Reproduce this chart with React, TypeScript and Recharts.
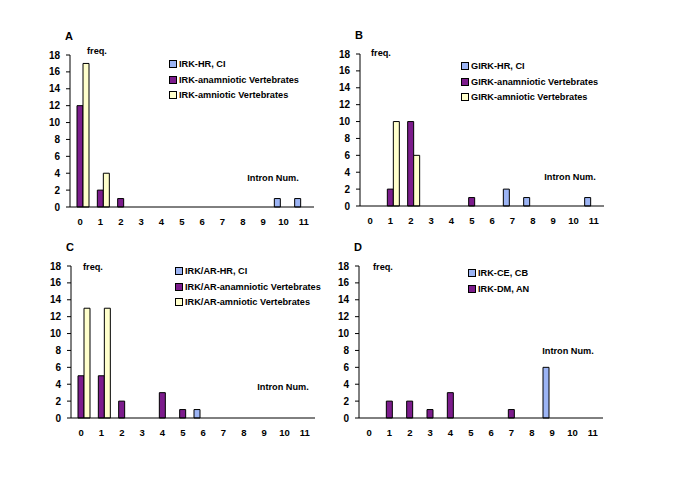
import { Bar, BarChart, XAxis, YAxis } from "recharts";

const FONT = '"Liberation Sans", Arial, sans-serif';

const BLUE = "#9cb4f4";
const PURPLE = "#7c1c8c";
const YELLOW = "#ffffcc";

// intron number categories (x axis)
const introns = ["0", "1", "2", "3", "4", "5", "6", "7", "8", "9", "10", "11"];
const freqTicks = [0, 2, 4, 6, 8, 10, 12, 14, 16, 18];

// A
const irkHR = [0, 0, 0, 0, 0, 0, 0, 0, 0, 0, 1, 1];
const irkAnam = [12, 2, 1, 0, 0, 0, 0, 0, 0, 0, 0, 0];
const irkAmni = [17, 4, 0, 0, 0, 0, 0, 0, 0, 0, 0, 0];

// B
const girkHR = [0, 0, 0, 0, 0, 0, 0, 2, 1, 0, 0, 1];
const girkAnam = [0, 2, 10, 0, 0, 1, 0, 0, 0, 0, 0, 0];
const girkAmni = [0, 10, 6, 0, 0, 0, 0, 0, 0, 0, 0, 0];

// C
const irkArHR = [0, 0, 0, 0, 0, 0, 1, 0, 0, 0, 0, 0];
const irkArAnam = [5, 5, 2, 0, 3, 1, 0, 0, 0, 0, 0, 0];
const irkArAmni = [13, 13, 0, 0, 0, 0, 0, 0, 0, 0, 0, 0];

// D
const irkCE = [0, 0, 0, 0, 0, 0, 0, 0, 0, 6, 0, 0];
const irkDM = [0, 2, 2, 1, 3, 0, 0, 1, 0, 0, 0, 0];
const noSeries = [0, 0, 0, 0, 0, 0, 0, 0, 0, 0, 0, 0];

const edgeTicks = Array.from({ length: introns.length + 1 }, (_, i) => i);

type LegendItem = { label: string; color: string };

type PanelProps = {
  letter: string;
  left: number;
  top: number;
  hr: number[];
  anam: number[];
  amni: number[];
  legend: LegendItem[];
  legendX: number;
  legendY: number;
  freqX: number;
  freqY: number;
  intronX: number;
  intronY: number;
};

const textStyle = {
  position: "absolute" as const,
  fontFamily: FONT,
  fontWeight: "bold" as const,
  fontSize: 9.2,
  color: "#000",
  whiteSpace: "nowrap" as const,
  lineHeight: "12px",
};

const black = { stroke: "#000", strokeWidth: 1 };

const Panel = ({
  letter,
  left,
  top,
  hr,
  anam,
  amni,
  legend,
  legendX,
  legendY,
  freqX,
  freqY,
  intronX,
  intronY,
}: PanelProps) => {
  const data = introns.map((n, i) => ({
    n,
    hr: hr[i],
    anam: anam[i],
    amni: amni[i],
  }));

  return (
    <div style={{ position: "absolute", left, top, width: 334, height: 237 }}>
      <BarChart
        width={334}
        height={237}
        data={data}
        margin={{ top: 55, right: 20, bottom: 10, left: 40 }}
        barGap={0}
        barCategoryGap={1}
      >
        <XAxis
          xAxisId="edge"
          type="number"
          domain={[0, introns.length]}
          ticks={edgeTicks}
          interval={0}
          allowDataOverflow
          height={4}
          mirror
          tick={false}
          tickSize={4}
          axisLine={black}
          tickLine={black}
        />
        <XAxis
          xAxisId="cat"
          dataKey="n"
          height={20}
          interval={0}
          axisLine={false}
          tickLine={false}
          tickSize={0}
          tickMargin={11}
          tick={{ fill: "#000", fontSize: 9.5, fontWeight: "bold", fontFamily: FONT }}
        />
        <YAxis
          domain={[0, 18]}
          ticks={freqTicks}
          width={30}
          interval={0}
          tickSize={4}
          tickMargin={6}
          axisLine={black}
          tickLine={black}
          tick={{ fill: "#000", fontSize: 10, fontWeight: "bold", fontFamily: FONT }}
        />
        <Bar xAxisId="cat" dataKey="hr" fill={BLUE} stroke="#000" strokeWidth={1} isAnimationActive={false} />
        <Bar xAxisId="cat" dataKey="anam" fill={PURPLE} stroke="#000" strokeWidth={1} isAnimationActive={false} />
        <Bar xAxisId="cat" dataKey="amni" fill={YELLOW} stroke="#000" strokeWidth={1} isAnimationActive={false} />
      </BarChart>

      <div style={{ ...textStyle, fontSize: 11, left: 65, top: 30 }}>{letter}</div>
      <div style={{ ...textStyle, left: freqX, top: freqY - 6 }}>freq.</div>
      <div
        style={{
          ...textStyle,
          left: intronX,
          top: intronY - 6,
          transform: "translateX(-50%)",
        }}
      >
        Intron Num.
      </div>

      {legend.map((item, i) => (
        <div
          key={item.label}
          style={{
            ...textStyle,
            left: legendX,
            top: legendY + i * 15.7 - 6,
            display: "flex",
            alignItems: "center",
          }}
        >
          <span
            style={{
              display: "inline-block",
              width: 6,
              height: 6,
              background: item.color,
              border: "1px solid #000",
              marginRight: 2,
            }}
          />
          {item.label}
        </div>
      ))}
    </div>
  );
};

export default function App() {
  return (
    <div
      style={{
        position: "relative",
        width: 685,
        height: 484,
        marginLeft: -8,
        marginTop: -8,
        background: "#fff",
        overflow: "hidden",
      }}
    >
      <Panel
        letter="A"
        left={0}
        top={0}
        hr={irkHR}
        anam={irkAnam}
        amni={irkAmni}
        legend={[
          { label: "IRK-HR, CI", color: BLUE },
          { label: "IRK-anamniotic Vertebrates", color: PURPLE },
          { label: "IRK-amniotic Vertebrates", color: YELLOW },
        ]}
        legendX={169}
        legendY={64}
        freqX={87}
        freqY={51}
        intronX={273}
        intronY={178}
      />
      <Panel
        letter="B"
        left={290}
        top={-1}
        hr={girkHR}
        anam={girkAnam}
        amni={girkAmni}
        legend={[
          { label: "GIRK-HR, CI", color: BLUE },
          { label: "GIRK-anamniotic Vertebrates", color: PURPLE },
          { label: "GIRK-amniotic Vertebrates", color: YELLOW },
        ]}
        legendX={171}
        legendY={67}
        freqX={81}
        freqY={54}
        intronX={280}
        intronY={178}
      />
      <Panel
        letter="C"
        left={1}
        top={211}
        hr={irkArHR}
        anam={irkArAnam}
        amni={irkArAmni}
        legend={[
          { label: "IRK/AR-HR, CI", color: BLUE },
          { label: "IRK/AR-anamniotic Vertebrates", color: PURPLE },
          { label: "IRK/AR-amniotic Vertebrates", color: YELLOW },
        ]}
        legendX={174}
        legendY={60}
        freqX={82}
        freqY={56}
        intronX={282}
        intronY={176}
      />
      <Panel
        letter="D"
        left={289}
        top={211}
        hr={irkCE}
        anam={irkDM}
        amni={noSeries}
        legend={[
          { label: "IRK-CE, CB", color: BLUE },
          { label: "IRK-DM, AN", color: PURPLE },
        ]}
        legendX={179}
        legendY={62}
        freqX={84}
        freqY={56}
        intronX={279}
        intronY={140}
      />
    </div>
  );
}
